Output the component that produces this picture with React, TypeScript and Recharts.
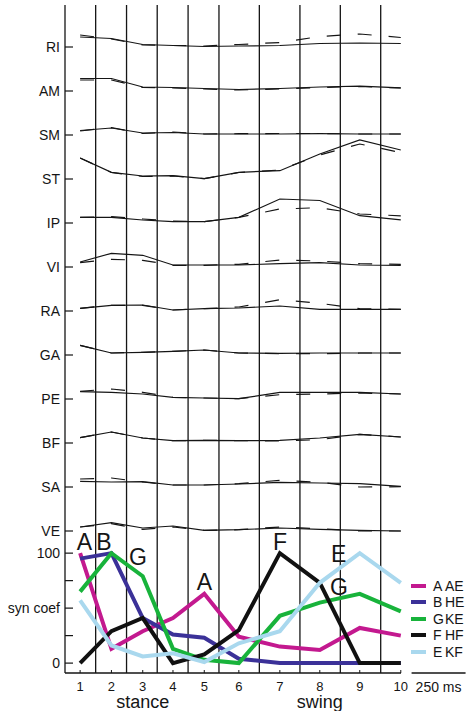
import { Line, LineChart, ReferenceDot, ReferenceLine, XAxis, YAxis } from "recharts";

// sample times (ms) of the 10 phases (250 ms)
const sampleTimes = [0, 145, 290, 430, 575, 735, 925, 1110, 1295, 1485];
const sampleLabels = ["1", "2", "3", "4", "5", "6", "7", "8", "9", "10"];
const phaseBounds = [72, 215, 357, 500, 643, 830, 1018, 1205, 1392];
const phaseTicks = [290, 1110];
const phaseNames = ["stance", "swing"];

const muscleNames = ["RI", "AM", "SM", "ST", "IP", "VI", "RA", "GA", "PE", "BF", "SA", "VE"];

// recorded EMG (solid) and synergy reconstruction (dashed), per muscle
const riEmg = [10, 8.5, 2.5, 1.5, 0.5, 1, 1.5, 3.5, 4, 3.5];
const riFit = [12, 8, 2, 1.5, 1, 2.5, 4.5, 10.5, 13, 9.5];
const amEmg = [12.5, 12.5, 4, 3.5, 2.5, 1.5, 2.5, 4, 4.8, 3.2];
const amFit = [11, 11, 3.5, 3, 2, 1, 2, 3.5, 4.5, 3];
const smEmg = [4.5, 7, 2, 2.5, 1, 1, 1, 1.3, 1, 1];
const smFit = [4, 7.5, 1.5, 3, 1, 1.3, 1.5, 1.5, 1, 1];
const stEmg = [21, 6.7, 3, 3.3, 0.3, 6.7, 8.3, 25, 39, 29];
const stFit = [21, 6.5, 2.5, 3, 0.3, 6.5, 9, 24, 35, 26.5];
const ipEmg = [5.7, 5.7, 3, 1.3, 1.3, 5.7, 24, 22.5, 7.3, 3.2];
const ipFit = [5.7, 6.3, 4, 2, 1.3, 5.7, 14, 15.3, 9, 7.2];
const viEmg = [5, 13.7, 11.7, 2, 2, 2, 3.3, 4.3, 2, 1.7];
const viFit = [4.3, 7.7, 6.7, 1.7, 1.7, 2.7, 7, 6, 3.3, 2.7];
const raEmg = [2.7, 5.7, 6, 1, 2.3, 3, 5, 1.7, 1.7, 1.7];
const raFit = [2.7, 5.7, 5.7, 1, 2.3, 4, 11.3, 7.7, 2.3, 1.7];
const gaEmg = [9.7, 2, 2.7, 3.7, 5, 2, 1.7, 2, 2, 2];
const gaFit = [9.7, 2, 2.7, 3.7, 5, 2, 1.3, 1.3, 2, 2];
const peEmg = [7.3, 6.7, 5, 1.7, 1, 0.3, 6.7, 6.7, 6.7, 5];
const peFit = [7.7, 10, 6.7, 1.7, 1, 0.3, 4.3, 5, 6, 5];
const bfEmg = [5.3, 11, 5, 2.3, 2.7, 2.3, 2.7, 5, 8.7, 6];
const bfFit = [5.3, 11, 5, 2.3, 2.7, 2.3, 2, 3.3, 8.7, 6];
const saEmg = [5.7, 5, 5.3, 2, 2, 3, 4.7, 4, 3.3, 0.7];
const saFit = [8, 9, 5, 2, 2, 3.3, 6.7, 4.7, 0, 0.3];
const veEmg = [4, 8.3, 3, 5, 0.7, 1.3, 3, 1.7, 0.7, 0];
const veFit = [4, 7.3, 1.7, 4, 0.7, 1.3, 4, 2.3, 0, 0];

const emgTraces = [riEmg, amEmg, smEmg, stEmg, ipEmg, viEmg, raEmg, gaEmg, peEmg, bfEmg, saEmg, veEmg];
const fitTraces = [riFit, amFit, smFit, stFit, ipFit, viFit, raFit, gaFit, peFit, bfFit, saFit, veFit];

// synergy activation coefficients
const synA = [100, 13, 29, 41, 63, 24, 15, 12, 32, 25];
const synB = [95, 100, 41, 26, 23, 4, 0, 0, 0, 0];
const synG = [65, 100, 79, 13, 3, 0, 43, 55, 63, 47];
const synF = [0, 29, 41, 0, 8, 30, 100, 73, 0, 0];
const synE = [57, 16, 6, 9, 1, 18, 29, 73, 100, 73];
const synIds = ["A", "B", "G", "F", "E"];
const synNames = ["AE", "HE", "KE", "HF", "KF"];
const synColors = ["#c3198f", "#3b3198", "#18b33b", "#111111", "#a9d8ee"];
const synSeries = [synA, synB, synG, synF, synE];

// letters placed over the synergy peaks
const noteLetters = ["A", "B", "G", "A", "F", "E", "G"];
const noteTimes = [20, 110, 268, 576, 926, 1197, 1199];
const noteValues = [110, 110, 96.6, 74, 110, 99.4, 69.4];

const BAND = 44;
const ink = "#151515";
const font = "'Liberation Sans', Arial, Helvetica, sans-serif";
const xDomain = [-70, 1486];

const App = () => {
  const n = muscleNames.length;
  const muscleBases = muscleNames.map((_, i) => (n - 1 - i) * BAND);

  const traceData = sampleTimes.map((t, k) => {
    const row: Record<string, number> = { t };
    muscleNames.forEach((m, i) => {
      row[`${m}_emg`] = muscleBases[i] + emgTraces[i][k];
      row[`${m}_fit`] = muscleBases[i] + fitTraces[i][k];
    });
    return row;
  });

  const synData = sampleTimes.map((t, k) => {
    const row: Record<string, number> = { t };
    synIds.forEach((id, j) => {
      row[id] = synSeries[j][k];
    });
    return row;
  });

  const tickStyle = { fill: ink, fontSize: 14, fontFamily: font };

  return (
    <div
      style={{
        position: "absolute",
        left: 0,
        top: 0,
        width: 467,
        height: 711,
        overflow: "hidden",
        background: "#fff",
        fontFamily: font,
      }}
    >
      <div style={{ position: "absolute", left: 0, top: 0 }}>
        <LineChart
          width={467}
          height={550}
          data={traceData}
          margin={{ top: 5, right: 66, bottom: 5, left: 0 }}
        >
          <XAxis dataKey="t" type="number" domain={xDomain} hide />
          <YAxis
            type="number"
            domain={[-14, 526]}
            ticks={muscleBases}
            interval={0}
            width={65}
            tickSize={-8}
            tickMargin={13}
            tickFormatter={(v: number) => muscleNames[n - 1 - Math.round(v / BAND)]}
            axisLine={{ stroke: ink, strokeWidth: 1.3 }}
            tickLine={{ stroke: ink, strokeWidth: 1.2 }}
            tick={tickStyle}
          />
          {phaseBounds.map((b) => (
            <ReferenceLine key={b} x={b} stroke={ink} strokeWidth={1.3} />
          ))}
          {muscleNames.map((m) => (
            <Line
              key={`${m}_fit`}
              dataKey={`${m}_fit`}
              stroke={ink}
              strokeWidth={1.2}
              strokeDasharray="14 17"
              dot={false}
              activeDot={false}
              isAnimationActive={false}
            />
          ))}
          {muscleNames.map((m) => (
            <Line
              key={`${m}_emg`}
              dataKey={`${m}_emg`}
              stroke={ink}
              strokeWidth={1.2}
              dot={false}
              activeDot={false}
              isAnimationActive={false}
            />
          ))}
        </LineChart>
      </div>

      <div style={{ position: "absolute", left: 0, top: 520 }}>
        <LineChart
          width={467}
          height={191}
          data={synData}
          margin={{ top: 25, right: 66, bottom: 0, left: 0 }}
        >
          <XAxis
            dataKey="t"
            type="number"
            domain={xDomain}
            ticks={sampleTimes}
            interval={0}
            height={17}
            tickSize={-3}
            tickMargin={12}
            tickFormatter={(v: number) => sampleLabels[sampleTimes.indexOf(v)]}
            axisLine={{ stroke: ink, strokeWidth: 1.3 }}
            tickLine={{ stroke: ink }}
            tick={{ fill: ink, fontSize: 13, fontFamily: font }}
          />
          <XAxis
            xAxisId="phase"
            dataKey="t"
            type="number"
            domain={xDomain}
            ticks={phaseTicks}
            interval={0}
            height={21}
            tickSize={0}
            tickMargin={5}
            axisLine={false}
            tickLine={false}
            tickFormatter={(v: number) => phaseNames[phaseTicks.indexOf(v)]}
            tick={{ fill: ink, fontSize: 18, fontFamily: font }}
          />
          <YAxis
            type="number"
            domain={[-9, 107.4]}
            ticks={[0, 25, 50, 75, 100]}
            interval={0}
            width={65}
            tickSize={-8}
            tickMargin={13}
            tickFormatter={(v: number) => (v === 50 ? "syn coef" : v === 0 || v === 100 ? String(v) : "")}
            axisLine={{ stroke: ink, strokeWidth: 1.3 }}
            tickLine={{ stroke: ink, strokeWidth: 1.2 }}
            tick={tickStyle}
          />
          {phaseBounds.map((b) => (
            <ReferenceLine key={b} x={b} stroke={ink} strokeWidth={1.3} />
          ))}
          <ReferenceLine
            segment={[
              { x: 1535, y: -9 },
              { x: 1785, y: -9 },
            ]}
            ifOverflow="visible"
            stroke={ink}
            strokeWidth={1.3}
            label={{ value: "250 ms", position: "bottom", offset: 9, fill: ink, fontSize: 14, fontFamily: font }}
          />
          {synIds.map((id, j) => (
            <Line
              key={id}
              dataKey={id}
              stroke={synColors[j]}
              strokeWidth={4}
              dot={false}
              activeDot={false}
              isAnimationActive={false}
            />
          ))}
          {noteLetters.map((letter, i) => (
            <ReferenceDot
              key={`${letter}${i}`}
              x={noteTimes[i]}
              y={noteValues[i]}
              r={0}
              fill="none"
              stroke="none"
              ifOverflow="visible"
              label={{ value: letter, position: "center", fill: ink, fontSize: 23, fontFamily: font }}
            />
          ))}
        </LineChart>
      </div>

      <div style={{ position: "absolute", left: 411, top: 577.5 }}>
        {synIds.map((id, j) => (
          <div
            key={id}
            style={{
              display: "flex",
              alignItems: "center",
              height: 16.5,
              whiteSpace: "nowrap",
              fontSize: 14,
              color: ink,
            }}
          >
            <span
              style={{
                display: "inline-block",
                width: 15,
                height: 4,
                background: synColors[j],
                marginRight: 7,
              }}
            />
            <span style={{ display: "inline-block", width: 12 }}>{id}</span>
            <span>{synNames[j]}</span>
          </div>
        ))}
      </div>
    </div>
  );
};

export default App;
